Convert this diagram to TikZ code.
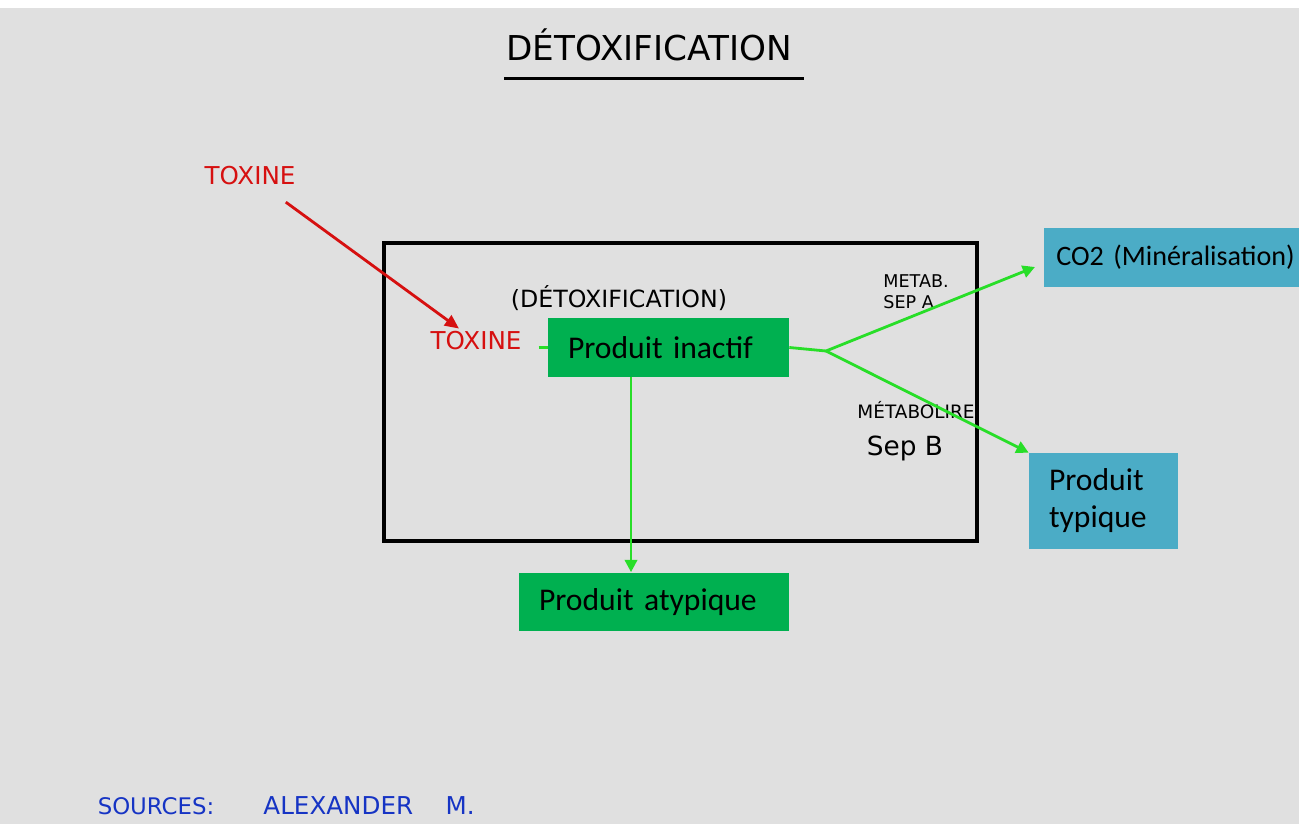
\documentclass[tikz,border=0pt]{standalone}
\usepackage{fontspec}
\setmainfont{Carlito}
\newfontfamily\handfont{DejaVu Sans}
\usepackage{xcolor}
\usepackage{tikz}
\usetikzlibrary{
	positioning,						% Relative positioning
	arrows.meta,						% Arrow tips
	calc								% Coordinate calculations
}
\definecolor{paper}{RGB}{224, 224, 224}
\definecolor{box-green}{RGB}{0, 176, 80}
\definecolor{box-blue}{RGB}{75, 172, 198}
\definecolor{ink-green}{RGB}{40, 222, 40}
\definecolor{ink-red}{RGB}{214, 16, 16}
\definecolor{ink-blue}{RGB}{22, 52, 196}

\begin{document}
\begin{tikzpicture}[x=0.02cm, y=-0.02cm]
		\tikzstyle{slide} = [inner xsep=0.4cm, inner ysep=0cm, align=left, font=\fontsize{18}{21}\selectfont]
		\tikzstyle{product} = [slide, fill=box-green, minimum height=1.18cm]
		\tikzstyle{result} = [slide, fill=box-blue, minimum height=1.18cm]
		\tikzstyle{hand} = [inner sep=1pt, font=\handfont]
		\tikzstyle{greenline} = [draw=ink-green, line width=1.6pt]
		\tikzstyle{greenarrow} = [greenline, -{Triangle[length=7pt, width=7pt]}]
		\tikzstyle{redarrow} = [draw=ink-red, line width=1.6pt, -{Triangle[length=8pt, width=7pt]}]
		
		% Paper
		\useasboundingbox (0, 0) rectangle (1299, 824);
		\clip (0, 0) rectangle (1299, 824);
		\fill[paper] (0, 0) rectangle (1299, 824);
		\fill[white] (0, 0) rectangle (1299, 8);
		
		% Title
		\node[hand, font=\handfont\fontsize{19.5}{22}\selectfont] at (649, 45) (title) {DÉTOXIFICATION};
		\draw[line width=1.6pt] ([xshift=0cm, yshift=-0.3cm]title.south west) to ([xshift=0.2cm, yshift=-0.3cm]title.south east);
		
		% Organ
		\node[draw, line width=1.8pt, minimum width=11.86cm, minimum height=5.96cm] at (680.5, 392) (organ) {};
		\node[hand, font=\handfont\fontsize{13.5}{15}\selectfont] at (619, 298) (organLabel) {(DÉTOXIFICATION)};
		\node[hand, font=\handfont\fontsize{10}{12}\selectfont, align=left] at (916, 292) (stepA) {METAB.\\SEP A};
		\node[hand, font=\handfont\fontsize{10.5}{12}\selectfont] at (916, 410) (stepBTop) {MÉTABOLIRE};
		\node[hand, font=\handfont\fontsize{15}{18}\selectfont] at (905, 448) (stepB) {Sep B};
		
		%% Toxins
		\node[hand, text=ink-red, font=\handfont\fontsize{14}{16}\selectfont] at (250, 176) (toxinOut) {TOXINE};
		\node[hand, text=ink-red, font=\handfont\fontsize{14}{16}\selectfont] at (476, 341) (toxinIn) {TOXINE};
		\draw[redarrow, shorten <=0.5cm, shorten >=1pt] (toxinOut) to (toxinIn);
		
		% Products
		\node[product, text width=4.02cm] at (668.5, 347.5) (inactive) {Produit inactif};
		\node[product, text width=4.6cm] at (654, 602) (atypical) {Produit atypique};
		\node[result, text width=2.18cm, minimum height=1.92cm] at (1103.5, 501) (typical) {Produit\\typique};
		\node[result, anchor=west, inner xsep=0.24cm, text width=5cm, font=\fontsize{16}{19}\selectfont] at (1044, 257.5) (mineral) {CO2 (Minéralisation)};
		
		%% Green arrows
		\coordinate (fork) at (826, 351);
		\draw[greenline, shorten <=0.3cm] (toxinIn.east |- inactive.west) to (inactive.west);
		\draw[greenline] (inactive.east) to (fork);
		\draw[greenarrow] (fork) to ([xshift=-0.18cm, yshift=-0.19cm]mineral.west);
		\draw[greenarrow] (fork) to (typical.north west);
		\draw[greenarrow] ([xshift=-0.75cm]inactive.south) to ([xshift=-0.75cm]inactive.south |- atypical.north);
		
		% Sources
		\node[hand, text=ink-blue, font=\handfont\fontsize{13}{15}\selectfont] at (156, 806) (sources) {SOURCES:};
		\node[hand, text=ink-blue, font=\handfont\fontsize{14}{16}\selectfont, right=0.9cm of sources] (author) {ALEXANDER \quad M.};
	\end{tikzpicture}
\end{document}
